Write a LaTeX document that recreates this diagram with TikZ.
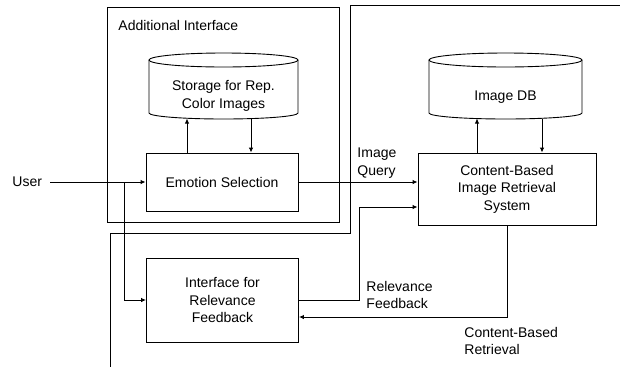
\documentclass[tikz,border=0pt]{standalone}
\usepackage{fontspec}
\setmainfont{Liberation Sans}
\usetikzlibrary{arrows.meta}
\begin{document}
\begin{tikzpicture}[x=1pt,y=-1pt,
  line width=0.9pt,
  arr/.style={-{Latex[length=5pt,width=4.5pt]}},
  boxnode/.style={draw,minimum width=152pt,align=center,font=\fontsize{14}{17.5}\selectfont},
  txt/.style={align=left,font=\fontsize{14}{17.5}\selectfont,inner sep=0pt},
  cyl/.style={draw}]
\useasboundingbox (0,0) rectangle (620,368);
% additional interface frame
\node[draw,minimum width=232pt,minimum height=215pt,inner sep=0pt] (addif) at (223.5,114.5) {};
\node[txt,anchor=west] (addlbl) at (118,25) {Additional Interface};
% dividing line
\coordinate (d1) at (620,5);
\coordinate (d2) at (350,5);
\coordinate (d3) at (350,233);
\coordinate (d4) at (110,233);
\coordinate (d5) at (110,367);
\draw (d1) -- (d2) -- (d3) -- (d4) -- (d5);
% storage cylinder
\draw (149,60) -- (149,113) arc[start angle=180,end angle=360,x radius=74.5,y radius=-6] -- (298,60);
\draw (223.5,60) ellipse[x radius=74.5,y radius=7];
\node[txt,align=center] (stor) at (223.5,96) {Storage for Rep.\\Color Images};
% image db cylinder
\draw (429,60) -- (429,113) arc[start angle=180,end angle=360,x radius=76.5,y radius=-6] -- (582,60);
\draw (505.5,60) ellipse[x radius=76.5,y radius=7];
\node[txt] (imgdb) at (505.5,97) {Image DB};
% boxes
\node[boxnode,minimum height=58pt] (emo) at (222,182) {Emotion Selection};
\node[boxnode,minimum height=84pt] (inter) at (222.5,300) {Interface for\\Relevance\\Feedback};
\node[boxnode,minimum width=178pt,minimum height=72pt] (cbir) at (507,189) {Content-Based\\Image Retrieval\\System};
% user
\node[txt,anchor=west] (user) at (12,182) {User};
\coordinate (ustart) at (50,182);
\coordinate (branch) at (124,182);
\draw[arr] (ustart) -- (emo.west);
\draw[arr] (branch) |- (inter.west);
% storage arrows
\coordinate (s1) at (187,118.5);
\coordinate (s2) at (251,118.5);
\draw[arr] (s1 |- emo.north) -- (s1);
\draw[arr] (s2) -- (s2 |- emo.north);
% image db arrows
\coordinate (i1) at (477,118.5);
\coordinate (i2) at (542,118.5);
\draw[arr] (i1 |- cbir.north) -- (i1);
\draw[arr] (i2) -- (i2 |- cbir.north);
% query
\draw[arr] (emo.east) -- (emo.east -| cbir.west);
\node[txt,anchor=west] (qlbl) at (357,163) {Image\\Query};
% relevance feedback
\coordinate (rf1) at (359,300);
\coordinate (rf2) at (359,207);
\draw[arr] (inter.east) -- (rf1) -- (rf2) -- (rf2 -| cbir.west);
\node[txt,anchor=west] (rflbl) at (366,295) {Relevance\\Feedback};
% content-based retrieval
\coordinate (cb1) at (507,317);
\draw[arr] (cbir.south) -- (cb1) -- (cb1 -| inter.east);
\node[txt,anchor=west] (cblbl) at (464,341) {Content-Based\\Retrieval};
\end{tikzpicture}
\end{document}
